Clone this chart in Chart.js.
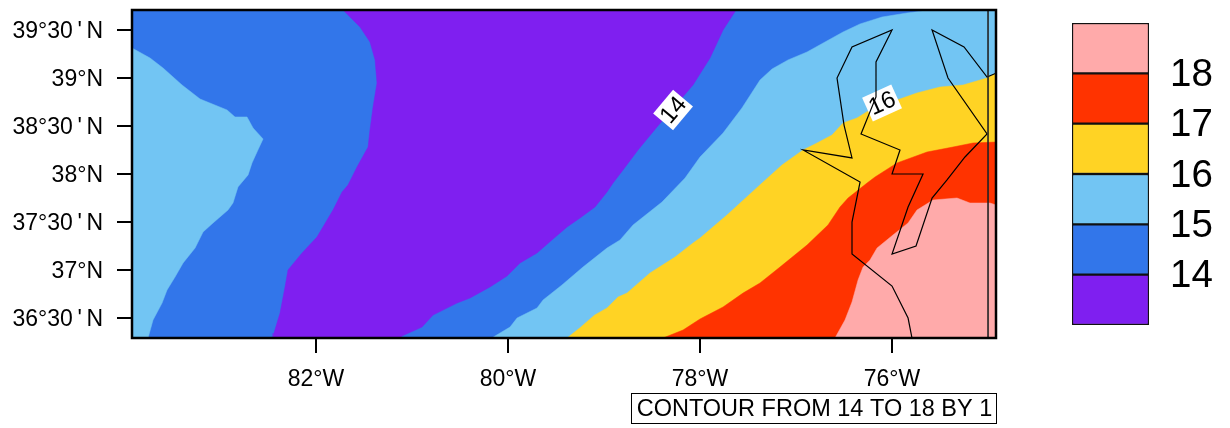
<!DOCTYPE html>
<html><head><meta charset="utf-8">
<style>html,body{margin:0;padding:0;background:#fff;overflow:hidden}
#map{position:absolute;left:0;top:0}#bar{position:absolute;left:1040px;top:0}</style>
<script src="https://cdn.jsdelivr.net/npm/chart.js@4"></script>
</head><body>
<canvas id="map" width="1040" height="428"></canvas>
<canvas id="bar" width="190" height="428"></canvas>
<script>
const lonMin=-83.917, lonMax=-74.917, latMin=36.292, latMax=39.708;
const lonTicks=[-82,-80,-78,-76];
const latTicks=[36.5,37,37.5,38,38.5,39,39.5];
const caption="CONTOUR FROM 14 TO 18 BY 1";
const levels=[14,15,16,17,18];
const bandColors=["#7f1ff0","#3276ea","#72c5f3","#ffd324","#ff3300","#ffaaaa"];
const contourLabels=[{text:"14",lon:-78.281,lat:38.667,deg:-50,w:31,h:26},{text:"16",lon:-76.104,lat:38.74,deg:-24.4,w:32,h:26}];

const west15=[[-83.917,39.3125],[-83.729,39.208],[-83.594,39.104],[-83.396,38.927],[-83.208,38.781],[-82.927,38.667],[-82.844,38.594],[-82.719,38.594],[-82.656,38.479],[-82.552,38.365],[-82.615,38.229],[-82.667,38.115],[-82.708,37.99],[-82.813,37.865],[-82.865,37.698],[-82.917,37.625],[-83.073,37.49],[-83.177,37.396],[-83.26,37.229],[-83.385,37.073],[-83.469,36.927],[-83.552,36.792],[-83.604,36.656],[-83.698,36.479],[-83.75,36.292],[-83.917,36.292]];
const below14=[[-81.719,39.708],[-81.542,39.531],[-81.438,39.375],[-81.385,39.188],[-81.365,38.948],[-81.406,38.698],[-81.438,38.458],[-81.458,38.281],[-81.573,38.073],[-81.667,37.885],[-81.729,37.813],[-81.823,37.625],[-81.99,37.344],[-82.146,37.177],[-82.292,37.0],[-82.323,36.823],[-82.375,36.552],[-82.438,36.344],[-82.448,36.292],[-81.125,36.292],[-81.104,36.313],[-80.896,36.406],[-80.781,36.531],[-80.531,36.656],[-80.396,36.708],[-80.188,36.823],[-80.01,36.938],[-79.875,37.073],[-79.698,37.177],[-79.531,37.323],[-79.385,37.448],[-79.25,37.542],[-79.094,37.656],[-78.969,37.813],[-78.906,37.906],[-78.802,38.042],[-78.646,38.25],[-78.448,38.49],[-78.073,38.927],[-77.896,39.208],[-77.76,39.5],[-77.625,39.708]];
const east15=[[-75.604,39.708],[-75.844,39.677],[-76.104,39.635],[-76.333,39.563],[-76.51,39.479],[-76.698,39.375],[-76.885,39.271],[-77.083,39.188],[-77.25,39.094],[-77.375,38.979],[-77.563,38.688],[-77.76,38.427],[-78.0,38.177],[-78.156,37.958],[-78.396,37.708],[-78.698,37.469],[-78.833,37.313],[-78.969,37.229],[-79.219,37.031],[-79.438,36.844],[-79.635,36.688],[-79.698,36.604],[-79.906,36.5],[-79.979,36.406],[-80.135,36.313],[-80.167,36.292],[-74.917,36.292],[-74.917,39.708]];
const east16=[[-79.385,36.292],[-79.25,36.4],[-79.1,36.53],[-78.969,36.604],[-78.854,36.719],[-78.76,36.76],[-78.521,36.969],[-78.26,37.135],[-78.073,37.281],[-78.0,37.333],[-77.719,37.573],[-77.354,37.906],[-77.146,38.094],[-76.927,38.25],[-76.781,38.323],[-76.625,38.406],[-76.51,38.531],[-76.365,38.583],[-76.198,38.688],[-75.948,38.771],[-75.74,38.844],[-75.5,38.906],[-75.26,38.927],[-75.01,39.0],[-74.917,39.052],[-74.917,36.292]];
const east17=[[-78.385,36.292],[-78.177,36.375],[-78.0,36.49],[-77.76,36.615],[-77.552,36.76],[-77.375,36.865],[-77.167,37.031],[-76.885,37.26],[-76.667,37.469],[-76.542,37.656],[-76.458,37.75],[-76.26,37.906],[-76.177,37.969],[-75.948,38.115],[-75.635,38.229],[-75.365,38.281],[-75.156,38.323],[-74.917,38.333],[-74.917,36.292]];
const east18=[[-76.594,36.292],[-76.49,36.479],[-76.417,36.667],[-76.354,36.896],[-76.302,37.031],[-76.229,37.104],[-76.156,37.229],[-75.99,37.365],[-75.833,37.49],[-75.74,37.625],[-75.573,37.729],[-75.323,37.75],[-75.188,37.698],[-74.979,37.698],[-74.917,37.677],[-74.917,36.292]];
const coastLine=[[-75.792,36.292],[-75.833,36.5],[-76.0,36.833],[-76.417,37.167],[-76.417,37.5],[-76.333,37.917],[-76.927,38.25],[-76.417,38.167],[-76.5,38.51],[-76.573,39.0],[-76.417,39.323],[-76.0,39.5],[-76.167,39.167],[-76.167,38.802],[-76.323,38.417],[-75.917,38.25],[-76.0,38.0],[-75.677,38.0],[-75.833,37.656],[-76.0,37.167],[-75.75,37.25],[-75.583,37.75],[-75.427,37.938],[-75.24,38.177],[-75.01,38.417],[-75.417,39.0],[-75.583,39.5],[-75.25,39.323],[-75.01,39.01],[-74.917,39.05]];
const borderLine=[[-75,36.292],[-75,39.708]];
const wholeArea=[[lonMin,latMin],[lonMax,latMin],[lonMax,latMax],[lonMin,latMax]];

const FONT='"Liberation Sans", Arial, sans-serif';
const toPts=a=>a.map(p=>({x:p[0],y:p[1]}));
const region=(pts,c)=>({data:toPts(pts.concat([pts[0]])),showLine:true,fill:'shape',backgroundColor:c,borderColor:c,borderWidth:0.5,pointRadius:0,tension:0});
const stroke=(pts,w,c)=>({data:toPts(pts),showLine:true,fill:false,borderColor:c,borderWidth:w,pointRadius:0,tension:0});
const fmtLat=v=>{const d=Math.floor(v);return v>d?d+"°30\u2009'\u2009N":d+"°N";};

const mapPlugin={id:'mapDecor',
 beforeDatasetDraw(chart,args){
  if(args.index!==1)return;
  const c=chart.ctx,sx=chart.scales.x,sy=chart.scales.y;
  contourLabels.forEach(l=>{c.save();
   c.translate(sx.getPixelForValue(l.lon),sy.getPixelForValue(l.lat));
   c.rotate(l.deg*Math.PI/180);
   c.fillStyle='#fff';c.fillRect(-l.w/2,-l.h/2,l.w,l.h);
   c.fillStyle='#000';c.font='24px '+FONT;c.textAlign='center';c.textBaseline='middle';
   c.fillText(l.text,0,1);c.restore();});
 },
 afterDatasetsDraw(chart){
  const c=chart.ctx,a=chart.chartArea;c.save();
  c.strokeStyle='#000';c.lineWidth=2.5;
  c.strokeRect(a.left,a.top,a.right-a.left,a.bottom-a.top);
  c.lineWidth=1;c.strokeRect(631.5,393.5,365,30);
  c.fillStyle='#000';c.font='23.5px '+FONT;c.textAlign='center';c.textBaseline='middle';
  c.fillText(caption,814.5,409.5);c.restore();
 }};

new Chart(document.getElementById('map'),{type:'scatter',
 data:{datasets:[
  stroke(borderLine,1.6,'#222'),stroke(coastLine,1.2,'#000'),
  region(east18,bandColors[5]),region(east17,bandColors[4]),region(east16,bandColors[3]),region(east15,bandColors[2]),
  region(below14,bandColors[0]),region(west15,bandColors[2]),region(wholeArea,bandColors[1])]},
 options:{responsive:false,animation:false,devicePixelRatio:1,events:[],
  layout:{padding:{left:0,top:10,right:44,bottom:0}},
  plugins:{legend:{display:false},tooltip:{enabled:false},title:{display:false}},
  scales:{
   x:{type:'linear',min:lonMin,max:lonMax,
    afterBuildTicks:s=>{s.ticks=lonTicks.map(v=>({value:v}));},
    afterFit:s=>{s.height=90;s.paddingLeft=0;s.paddingRight=0;},
    grid:{drawOnChartArea:false,drawTicks:true,tickLength:15,color:'#000',lineWidth:2},
    border:{display:false},
    ticks:{padding:13,autoSkip:false,maxRotation:0,color:'#000',font:{family:FONT,size:23},callback:v=>Math.abs(v)+'°W'}},
   y:{type:'linear',min:latMin,max:latMax,
    afterBuildTicks:s=>{s.ticks=latTicks.map(v=>({value:v}));},
    afterFit:s=>{s.width=132;s.paddingTop=0;s.paddingBottom=0;},
    grid:{drawOnChartArea:false,drawTicks:true,tickLength:15,color:'#000',lineWidth:2},
    border:{display:false},
    ticks:{padding:14,labelOffset:2,autoSkip:false,color:'#000',font:{family:FONT,size:23},callback:fmtLat}}
  }},
 plugins:[mapPlugin]});

const bandLow=[13,14,15,16,17,18];
new Chart(document.getElementById('bar'),{type:'bar',
 data:{labels:[''],datasets:bandLow.map((v,i)=>({data:[[v,v+1]],backgroundColor:bandColors[i],borderColor:'#111',borderWidth:1.5,borderSkipped:false,grouped:false,barPercentage:1,categoryPercentage:1}))},
 options:{responsive:false,animation:false,devicePixelRatio:1,events:[],
  layout:{padding:{left:32,top:23,right:0,bottom:103}},
  plugins:{legend:{display:false},tooltip:{enabled:false}},
  scales:{
   x:{display:false},
   y:{position:'right',min:13,max:19,
    afterBuildTicks:s=>{s.ticks=levels.map(v=>({value:v}));},
    afterFit:s=>{s.width=81;s.paddingTop=0;s.paddingBottom=0;},
    grid:{display:false,drawTicks:false},border:{display:false},
    ticks:{padding:21,labelOffset:2,autoSkip:false,color:'#000',font:{family:FONT,size:38.5},callback:v=>String(v)}}
  }}});
</script>
</body></html>
